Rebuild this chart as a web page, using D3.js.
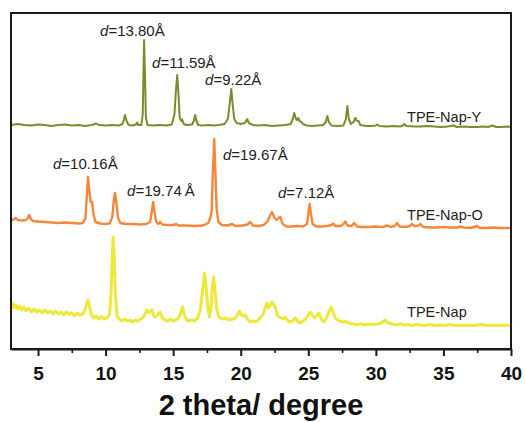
<!DOCTYPE html>
<html>
<head>
<meta charset="utf-8">
<script src="https://cdn.jsdelivr.net/npm/d3@7/dist/d3.min.js"></script>
<style>
  html, body { margin: 0; padding: 0; background: #fff; }
  svg { display: block; }
</style>
</head>
<body>
<svg id="chart" width="525" height="422"></svg>
<script>
// ---------- DATA (2θ in degrees, intensity in arbitrary units, traces stacked) ----------
const seriesNames = ["TPE-Nap-Y", "TPE-Nap-O", "TPE-Nap"];

const napY = [
  [3.0,224],[3.5,225],[4.0,224],[4.5,223.5],[5.0,224.5],[5.5,224],[6.0,223],[6.5,224],[7.0,224.5],[7.5,223.5],
  [8.0,224],[8.5,223],[9.0,224],[9.3,225.5],[9.5,224],[10.0,223.5],[10.5,224],[11.0,223.5],[11.25,225],[11.35,229],
  [11.44,234],[11.55,228],[11.7,224],[12.0,223.5],[12.25,224.5],[12.33,226.5],[12.42,224],[12.65,224],[12.75,235],
  [12.8,275],[12.85,309],[12.92,270],[12.98,232],[13.1,224],[13.5,223.5],[14.0,224],[14.5,223.5],[14.9,224.5],
  [15.1,235],[15.2,258],[15.3,274],[15.38,258],[15.48,232],[15.6,228],[15.67,229.5],[15.78,225],[16.0,224],
  [16.4,224.5],[16.52,228],[16.63,234],[16.72,228],[16.85,224],[17.2,223.5],[17.6,224],[18.0,223.5],[18.4,224],
  [18.8,225],[19.05,230],[19.18,245],[19.3,260],[19.4,245],[19.52,230],[19.7,226],[20.0,225],[20.3,226],
  [20.48,230],[20.6,226],[20.9,224],[21.3,223.5],[21.8,224],[22.3,223],[22.8,223.5],[23.3,224],[23.7,225],
  [23.85,230],[23.96,236],[24.07,231],[24.15,229],[24.26,231],[24.35,228],[24.5,227],[24.6,225],[24.9,223.5],
  [25.3,223],[25.7,223.5],[26.1,224],[26.3,227],[26.41,233],[26.52,227],[26.7,223.5],[27.2,223],[27.6,223.5],
  [27.78,230],[27.89,243],[28.0,230],[28.15,225],[28.35,227],[28.48,231],[28.6,228],[28.72,228],[28.85,224],
  [29.3,223],[29.7,223],[30.0,223.5],[30.11,224.5],[30.25,223],[30.8,222.5],[31.3,223],[31.8,222.5],[32.0,223.5],
  [32.11,225],[32.25,223],[32.8,222.5],[33.3,222.5],[33.8,223],[34.3,222.5],[34.8,222],[35.3,222.5],[35.74,223.5],
  [36.0,222],[36.5,222.5],[37.0,222],[37.5,222],[38.0,222.5],[38.3,222],[38.63,223.5],[38.9,222],[39.3,222],
  [39.7,222.5],[40.0,222]
];

const napO = [
  [3.0,129],[3.2,129.5],[3.35,131],[3.5,129],[3.8,128.5],[4.1,129],[4.25,131],[4.33,134],[4.42,131],[4.6,128],
  [5.0,127.5],[5.5,127],[6.0,126.5],[6.5,126],[7.0,126.5],[7.5,126],[8.0,125.5],[8.3,126],[8.5,130],[8.6,150],
  [8.7,172],[8.8,158],[8.9,147],[9.0,147],[9.1,135],[9.25,127],[9.6,125.5],[10.0,125],[10.3,125.5],[10.5,132],
  [10.6,148],[10.7,156],[10.8,146],[10.92,131],[11.1,126],[11.5,125],[12.0,125],[12.5,124.5],[13.0,125],[13.3,127],
  [13.42,138],[13.52,147],[13.62,137],[13.75,127],[13.9,125],[14.04,127],[14.2,124.5],[14.6,124],[15.0,124],
  [15.22,125],[15.4,123.5],[16.0,123.5],[16.6,123],[17.2,123.5],[17.6,126],[17.75,131],[17.85,138],[17.93,175],
  [18.04,210],[18.13,175],[18.22,140],[18.35,127],[18.6,124],[19.0,123.5],[19.37,125],[19.6,123],[20.1,123.5],
  [20.5,124.5],[20.7,127],[20.9,123.5],[21.3,123],[21.7,124],[22.0,128],[22.15,133],[22.31,137],[22.5,131],
  [22.65,129],[22.8,131],[22.93,132],[23.1,125],[23.4,122.5],[23.8,122.5],[24.2,123],[24.6,122.5],[24.9,125],
  [25.0,135],[25.1,145],[25.2,135],[25.32,125],[25.6,122.5],[26.0,122.5],[26.4,123],[26.7,124],[26.85,125.5],
  [27.0,123],[27.4,123],[27.6,125],[27.74,127.5],[27.9,123.5],[28.2,123],[28.4,126],[28.6,122.5],[29.0,122],
  [29.5,122],[30.0,122.5],[30.5,122],[30.83,123.5],[31.1,122],[31.4,123],[31.57,126],[31.75,122.5],[32.2,122],
  [32.5,123],[32.68,125],[32.85,123],[33.1,123],[33.3,125],[33.5,122],[34.0,121.5],[34.5,121.5],[35.0,122],
  [35.5,121.5],[36.0,121.5],[36.26,122.5],[36.5,121.5],[37.0,121],[37.5,123],[37.7,121],[38.2,121],[38.7,121.5],
  [39.2,121],[39.6,121],[40.0,121]
];

const napPure = [
  [3.0,42],[3.1,46],[3.2,41],[3.35,44],[3.5,40],[3.65,43],[3.8,39],[3.95,42],[4.1,38],[4.3,41],[4.5,37],[4.7,40],
  [4.9,37],[5.1,39],[5.3,36],[5.5,39],[5.7,36],[5.9,38],[6.1,35],[6.3,38],[6.5,35],[6.7,37],[6.9,34],[7.1,37],
  [7.3,35],[7.5,36],[7.7,33],[7.9,36],[8.1,34],[8.3,35],[8.45,38],[8.6,45],[8.7,49],[8.8,43],[8.95,34],[9.1,31],
  [9.3,33],[9.5,30],[9.7,32],[9.9,30],[10.1,31],[10.3,35],[10.4,55],[10.5,95],[10.56,112],[10.63,95],[10.72,55],
  [10.85,33],[11.0,30],[11.2,28],[11.4,30],[11.6,28],[11.8,29],[12.0,27],[12.2,29],[12.4,28],[12.6,30],[12.8,32],
  [12.95,36],[13.07,39],[13.2,36],[13.3,38],[13.44,39],[13.55,33],[13.7,32],[13.85,34],[14.04,37],[14.2,31],
  [14.4,29],[14.6,28],[14.8,30],[15.0,28],[15.2,29],[15.4,31],[15.55,36],[15.69,42],[15.82,34],[16.0,29],[16.2,28],
  [16.4,29],[16.6,28],[16.8,31],[17.0,38],[17.15,55],[17.32,76],[17.45,60],[17.58,40],[17.69,32],[17.8,42],
  [17.9,62],[17.99,72],[18.1,58],[18.22,40],[18.35,33],[18.5,31],[18.7,30],[18.9,31],[19.1,29],[19.3,30],[19.5,30],
  [19.7,33],[19.91,38],[20.05,34],[20.2,33],[20.33,34],[20.5,30],[20.7,27],[20.9,28],[21.1,27],[21.3,29],[21.5,32],
  [21.7,36],[21.85,43],[21.94,46],[22.05,41],[22.15,43],[22.31,47],[22.45,44],[22.56,42],[22.7,34],[22.85,32],
  [23.0,31],[23.15,30],[23.3,32],[23.5,28],[23.7,27],[23.9,29],[24.04,31],[24.2,28],[24.4,26],[24.6,28],[24.8,30],
  [24.95,33],[25.15,37],[25.3,34],[25.45,31],[25.6,33],[25.77,36],[25.95,30],[26.15,27],[26.35,31],[26.5,37],
  [26.7,42],[26.85,36],[27.05,30],[27.3,28],[27.55,27],[27.74,27.5],[28.0,26],[28.3,25],[28.6,24.5],[28.9,25],
  [29.2,24],[29.5,25],[29.8,24.5],[30.1,25],[30.4,26],[30.7,29],[30.9,26],[31.2,25],[31.5,24],[31.8,25],[32.1,24],
  [32.4,24.5],[32.7,23.5],[33.0,24.5],[33.3,24],[33.6,23.5],[33.9,24.5],[34.2,24],[34.5,23.5],[34.8,24],[35.1,23.5],
  [35.4,24.5],[35.7,24],[36.0,23.5],[36.3,24],[36.6,23.5],[36.9,24],[37.2,23.5],[37.5,24],[37.8,24.5],[38.1,23.5],
  [38.4,24],[38.7,23.5],[39.0,24],[39.3,23.5],[39.6,24],[40.0,23.5]
];

const seriesColors = ["#7d8b2c", "#f5873a", "#eee83c"];
const seriesWidths = [2, 2.4, 3];

const majorTicks = [5, 10, 15, 20, 25, 30, 35, 40];
const minorTicks = [7.5, 12.5, 17.5, 22.5, 27.5, 32.5, 37.5];
const xDomain = [3, 40];
const yDomain = [0, 336];
const xTitle = "2 theta/ degree";

// peak annotations: d-spacing text, anchored at (2θ, intensity)
const annoText  = ["=13.80Å", "=11.59Å", "=9.22Å", "=10.16Å", "=19.74\u2009Å", "=19.67Å", "=7.12Å"];
const annoTheta = [9.59, 13.44, 17.36, 6.11, 11.59, 18.69, 22.76];
const annoInt   = [313, 281, 264, 180, 153, 189, 151];

// trace labels anchored at (2θ, intensity)
const labelTheta = [32.31, 32.31, 32.31];
const labelInt   = [227, 129, 32];

// ---------- DRAW ----------
const svg = d3.select("#chart");
const L = 11, R = 511, T = 13, B = 349;

const x = d3.scaleLinear().domain(xDomain).range([L, R]);
const y = d3.scaleLinear().domain(yDomain).range([B, T]);

const seriesData = [napY, napO, napPure];
const line = d3.line().x(d => x(d[0])).y(d => y(d[1])).curve(d3.curveLinear);

const traces = svg.append("g");
seriesData.slice().reverse().forEach((s, ri) => {
  const i = seriesData.length - 1 - ri;
  traces.append("path")
    .datum(s)
    .attr("d", line)
    .attr("fill", "none")
    .attr("stroke", seriesColors[i])
    .attr("stroke-width", seriesWidths[i])
    .attr("stroke-linejoin", "round")
    .attr("stroke-linecap", "round");
});

// frame
svg.append("rect")
  .attr("x", L).attr("y", T).attr("width", R - L).attr("height", B - T)
  .attr("fill", "none").attr("stroke", "#1a1a1a").attr("stroke-width", 2);

// x axis (ticks outward)
const axis = svg.append("g").attr("transform", `translate(0,${B})`)
  .call(d3.axisBottom(x).tickValues(majorTicks).tickSize(7).tickSizeOuter(0).tickPadding(11).tickFormat(d3.format("d")));
axis.select(".domain").attr("stroke", "#1a1a1a").attr("stroke-width", 2);
axis.selectAll(".tick line").attr("stroke", "#1a1a1a").attr("stroke-width", 2);
axis.selectAll(".tick text")
  .attr("font-family", "'Liberation Sans', Arial, sans-serif")
  .attr("font-weight", "bold").attr("font-size", 19).attr("fill", "#111");

const minorAxis = svg.append("g").attr("transform", `translate(0,${B})`)
  .call(d3.axisBottom(x).tickValues(minorTicks).tickSize(4).tickSizeOuter(0).tickFormat(""));
minorAxis.select(".domain").remove();
minorAxis.selectAll(".tick line").attr("stroke", "#1a1a1a").attr("stroke-width", 1.6);

svg.append("text")
  .attr("x", (L + R) / 2).attr("y", 415)
  .attr("text-anchor", "middle")
  .attr("font-family", "'Liberation Sans', Arial, sans-serif")
  .attr("font-weight", "bold").attr("font-size", 29).attr("fill", "#111")
  .text(xTitle);

// annotations
annoText.forEach((t, i) => {
  const tx = svg.append("text")
    .attr("x", x(annoTheta[i])).attr("y", y(annoInt[i]))
    .attr("font-family", "'Liberation Sans', Arial, sans-serif")
    .attr("font-size", 15).attr("fill", "#222");
  tx.append("tspan").attr("font-style", "italic").text("d");
  tx.append("tspan").text(t);
});

seriesNames.forEach((n, i) => {
  svg.append("text")
    .attr("x", x(labelTheta[i])).attr("y", y(labelInt[i]))
    .attr("font-family", "'Liberation Sans', Arial, sans-serif")
    .attr("font-size", 14.5).attr("fill", "#222")
    .text(n);
});
</script>
</body>
</html>
